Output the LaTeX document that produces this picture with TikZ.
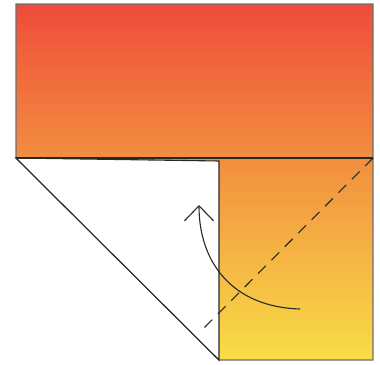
\documentclass[tikz,border=0pt]{standalone}
\usepackage{xcolor}
\definecolor{foldred}{RGB}{239,76,58}
\definecolor{foldorange}{RGB}{242,142,64}
\definecolor{foldyellow}{RGB}{248,221,70}
\definecolor{creaseink}{RGB}{40,40,40}
\definecolor{edgegray}{RGB}{110,110,110}
\usepackage{tikz}
\usetikzlibrary{arrows.meta}
% vertical shading: inner 25bp..75bp covers the sheet
\pgfdeclareverticalshading{paper}{100bp}{%
  color(0bp)=(foldyellow); color(25bp)=(foldyellow);
  color(53.4bp)=(foldorange);
  color(75bp)=(foldred); color(100bp)=(foldred)}
\tikzset{
  sheet/.style  = {shading=paper, draw=edgegray, line width=1.4pt, line join=miter},
  flap/.style   = {fill=white, draw=creaseink, line width=1.1pt, line join=miter},
  edge/.style   = {draw=creaseink, line width=1.1pt},
  crease/.style = {draw=creaseink, line width=1.1pt, dash pattern=on 11pt off 8pt},
  turn/.style   = {draw=creaseink, line width=1.1pt, -{Straight Barb[length=15pt, width=29pt, line width=1.1pt]}},
}

\begin{document}
\begin{tikzpicture}[x=1pt, y=-1pt]
    \useasboundingbox (0,0) rectangle (380,364);

    % ── Sheet with its coloured side up ─────────────────────────
    \coordinate (tl) at (16,4);
    \coordinate (tr) at (373,4);
    \coordinate (br) at (373,360);
    \coordinate (ml) at (16,158);
    \coordinate (mr) at (373,158);
    \coordinate (fb) at (219,360);
    \shade[sheet] (tl) -- (tr) -- (br) -- (fb) -- (ml) -- cycle;

    % ── Folded-back corner (white side) ─────────────────────────
    \coordinate (fc) at (219,161);
    \path[flap] (ml) -- (fc) -- (fb) -- cycle;
    \draw[edge] (ml) -- (mr);

    % ── Crease and turning arrow ────────────────────────────────
    \coordinate (ce) at (200,332);
    \draw[crease] (mr) -- (ce);
    \coordinate (as) at (300,309);
    \coordinate (ae) at (199,205);
    \draw[turn] (as) .. controls (232,307) and (199,262) .. (ae);
  \end{tikzpicture}
\end{document}
